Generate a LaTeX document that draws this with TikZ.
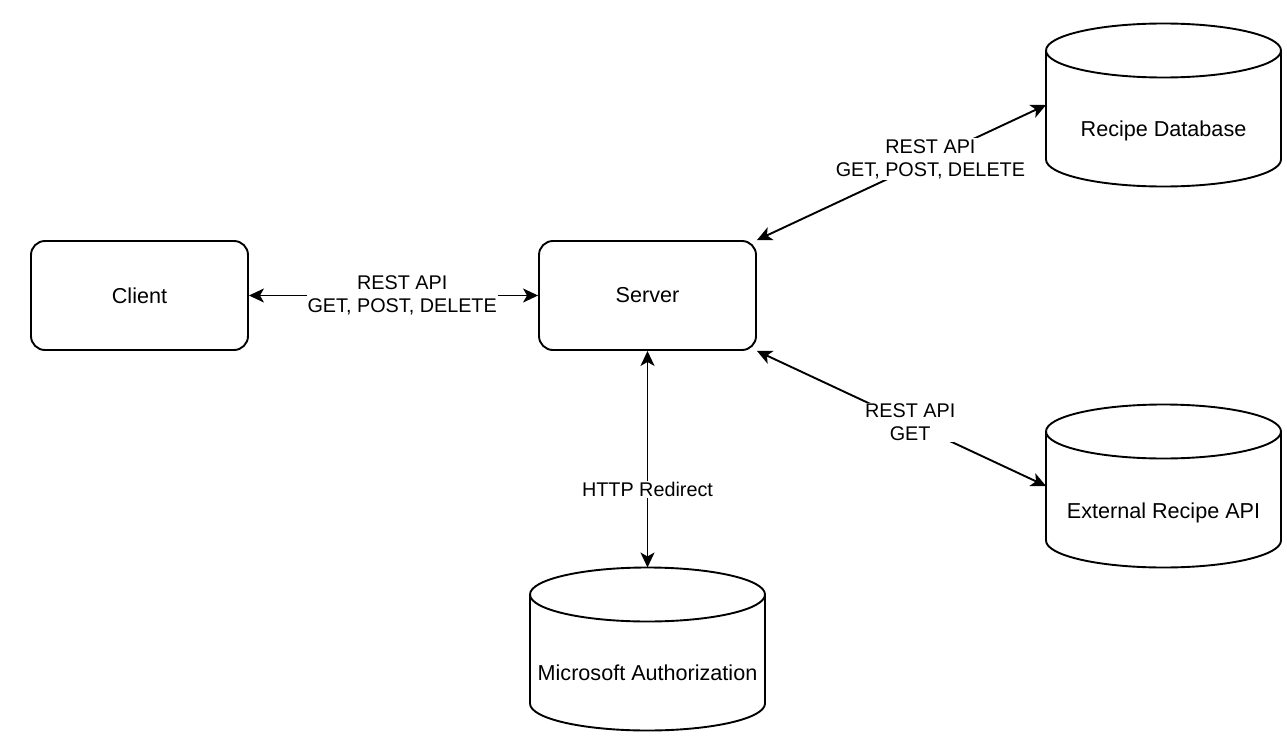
\documentclass[tikz,border=0pt]{standalone}
\usepackage{fontspec}
\setmainfont{Liberation Sans}
\usetikzlibrary{arrows.meta}
\usetikzlibrary{positioning}
\tikzset{box/.style = {draw, line width=1.9pt, rounded corners=14pt,
                       minimum width=217pt, minimum height=109pt}}
\tikzset{db/.style = {minimum width=235pt, minimum height=163pt,
                      inner sep=0pt, outer sep=0pt}}
\tikzset{dbtext/.style = {inner sep=0pt}}
\tikzset{link/.style = {line width=1.9pt, <->,
                        >={Stealth[length=15pt, width=14pt, inset=4pt]}}}
\tikzset{elabel/.style = {fill=white, align=center, inner sep=1pt,
                          font=\fontsize{19.8}{23}\selectfont}}
\newcommand{\drawdb}[1]{%
  \draw [line width=1.9pt] ([yshift=-27pt]#1.north) ellipse [x radius=117.5, y radius=27];
  \draw [line width=1.9pt] ([yshift=-27pt]#1.north west) -- ([yshift=27pt]#1.south west)
        arc [start angle=180, end angle=0, x radius=117.5, y radius=27]
        -- ([yshift=-27pt]#1.north east);
}

\begin{document}
\begin{tikzpicture}[x=1pt, y=-1pt, every node/.style={font=\fontsize{21.6}{23}\selectfont}]
      \useasboundingbox (0, 0) rectangle (1287, 741);

      \node [box] (client) at (139.5, 295.5) {Client};
      \node [box] (server) at (647.5, 295.5) {Server};

      \node [db] (recipedb) at (1163.5, 105) {};
      \node [db] (extapi) at (1163.5, 486) {};
      \node [db] (msauth) at (647.5, 649) {};
      \foreach \n in {recipedb, extapi, msauth} {
        \drawdb{\n}
      }
      \node [dbtext] (recipedbtext) at ([yshift=-26pt]recipedb.center) {Recipe Database};
      \node [dbtext] (extapitext) at ([yshift=-27pt]extapi.center) {External Recipe API};
      \node [dbtext] (msauthtext) at ([yshift=-24pt]msauth.center) {Microsoft Authorization};

      \draw [link] (client.east) -- node [pos=0.53, elabel] (clientlabel) {REST API\\GET, POST, DELETE} (server.west);
      \draw [link] (server.north east) -- node [pos=0.6, elabel] (dblabel) {REST API\\GET, POST, DELETE} (recipedb.west);
      \draw [link] (server.south east) -- node [pos=0.53, elabel] (apilabel) {REST API\\GET} (extapi.west);
      \draw [link] (server.south) -- node [pos=0.64, elabel] (authlabel) {HTTP Redirect} (msauth.north);
    \end{tikzpicture}
\end{document}
